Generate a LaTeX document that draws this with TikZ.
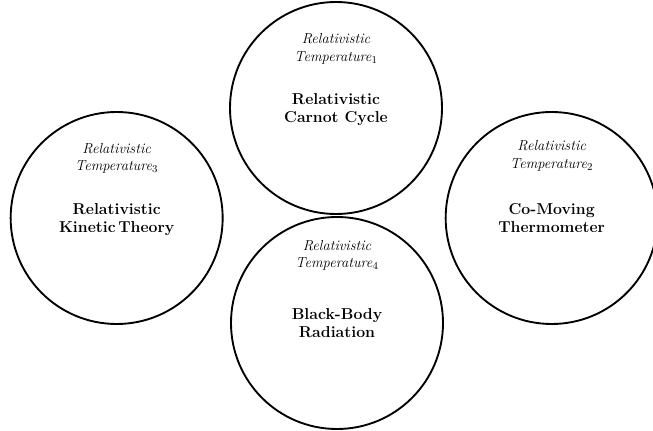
\documentclass[tikz,border=0pt]{standalone}
\usepackage{tikz}
\usetikzlibrary{positioning}

\tikzset{
  topic/.style={circle,draw=black,line width=1.6pt,minimum size=6.36cm,inner sep=0pt,
                align=center,font=\bfseries\fontsize{13.5}{15.8}\selectfont,text depth=0pt},
  temp/.style={align=center,font=\itshape\fontsize{12.4}{15}\selectfont,text=black}
}

\begin{document}
\begin{tikzpicture}
% canvas, 1px = 0.03cm
  \useasboundingbox (0,0) rectangle (19.59,12.93);

  \pgfmathsetmacro\trow{6.39}   % height of the middle row

% four circles
  \node[topic] (carnot)  at (10.08,9.69)  {Relativistic\\Carnot Cycle};
  \node[topic] (kinetic) at (3.50,\trow)  {Relativistic\\Kinetic\,Theory};
  \node[topic] (thermo)  at (16.55,\trow) {Co-Moving\\Thermometer};
  \node[topic] (body)    at (10.11,3.24)  {Black-Body\\Radiation};

% temperature labels
  \node[temp] (tone)   at ([yshift=1.77cm]carnot.center)  {Relativistic\\Temperature$_1$};
  \node[temp] (tthree) at ([yshift=1.79cm]kinetic.center) {Relativistic\\Temperature$_3$};
  \node[temp] (ttwo)   at ([yshift=1.86cm]thermo.center)  {Relativistic\\Temperature$_2$};
  \node[temp] (tfour)  at ([yshift=2.03cm]body.center)    {Relativistic\\Temperature$_4$};

\end{tikzpicture}
\end{document}
